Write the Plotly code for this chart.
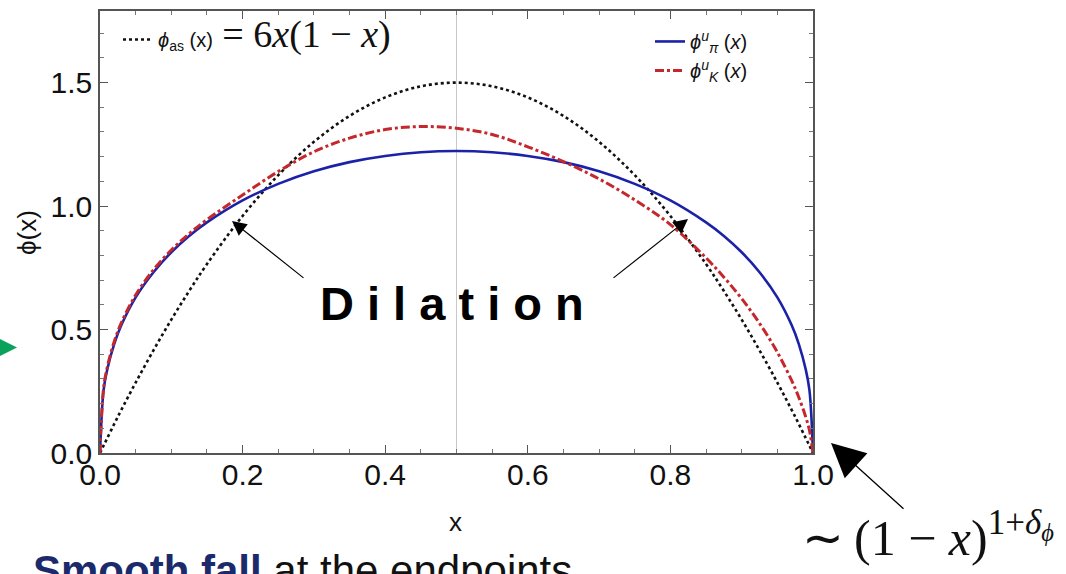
import plotly.graph_objects as go

# ---- data ----
x_vals = [0.0, 0.005, 0.01, 0.02, 0.03, 0.05, 0.075, 0.1, 0.125, 0.15, 0.2, 0.25, 0.3,
          0.35, 0.4, 0.45, 0.5, 0.55, 0.6, 0.65, 0.7, 0.75, 0.8, 0.85, 0.875, 0.9,
          0.925, 0.95, 0.97, 0.98, 0.99, 0.995, 1.0]

phi_as = [0.0, 0.030, 0.059, 0.118, 0.175, 0.285, 0.416, 0.54, 0.656, 0.765, 0.96, 1.125, 1.26,
          1.365, 1.44, 1.485, 1.5, 1.485, 1.44, 1.365, 1.26, 1.125, 0.96, 0.765, 0.656, 0.54,
          0.416, 0.285, 0.175, 0.118, 0.059, 0.030, 0.0]

phi_pi = [0.0, 0.255, 0.336, 0.442, 0.518, 0.630, 0.732, 0.813, 0.879, 0.934, 1.023, 1.090, 1.141,
          1.178, 1.203, 1.218, 1.223, 1.218, 1.203, 1.178, 1.141, 1.090, 1.023, 0.934, 0.879, 0.813,
          0.732, 0.630, 0.518, 0.442, 0.336, 0.255, 0.0]

phi_K = [0.0, 0.262, 0.345, 0.452, 0.528, 0.640, 0.742, 0.822, 0.888, 0.945, 1.045, 1.140, 1.220,
         1.275, 1.310, 1.322, 1.315, 1.290, 1.240, 1.180, 1.110, 1.025, 0.925, 0.790, 0.712, 0.625,
         0.525, 0.408, 0.294, 0.226, 0.144, 0.092, 0.0]

center_x = 0.5
x_ticks = [0.0, 0.2, 0.4, 0.6, 0.8, 1.0]
y_ticks = [0.0, 0.5, 1.0, 1.5]

# ---- geometry helpers (pixels -> paper) ----
L, R, T, B = 100, 253, 9, 121
W, H = 1066, 574
PW, PH = W - L - R, H - T - B


def px(xp):
    return (xp - L) / PW


def py(yp):
    return (H - B - yp) / PH


fig = go.Figure()

fig.add_trace(go.Scatter(
    x=x_vals, y=phi_as, mode="lines", line=dict(color="#111111", width=2.6, dash="3px,3px", shape="spline"),
    name="<i>ϕ</i><sub>as</sub> (x)<span style='font-family:Liberation Serif;font-size:38px'> = 6<i>x</i>(1 − <i>x</i>)</span>",
    legend="legend"))
fig.add_trace(go.Scatter(
    x=x_vals, y=phi_pi, mode="lines", line=dict(color="#1c22a8", width=2.6, shape="spline"),
    name="<i>ϕ</i><sup><i>u</i></sup><sub><i>π</i></sub> (<i>x</i>)", legend="legend2"))
fig.add_trace(go.Scatter(
    x=x_vals, y=phi_K, mode="lines", line=dict(color="#c4282c", width=3, dash="9px,3px,3px,3px", shape="spline"),
    name="<i>ϕ</i><sup><i>u</i></sup><sub><i>K</i></sub> (<i>x</i>)", legend="legend2"))

fig.add_vline(x=center_x, line=dict(color="#c8c8c8", width=1), layer="below")

axis_common = dict(
    showline=True, linecolor="#555555", linewidth=1.5, mirror="ticks",
    ticks="inside", ticklen=8, tickwidth=1, tickcolor="#555555",
    showgrid=False, zeroline=False,
    tickfont=dict(family="Liberation Sans", size=30, color="#111111"),
)

fig.update_xaxes(range=[0, 1], tickvals=x_ticks, ticktext=[f"{v:.1f}" for v in x_ticks],
                 ticklabelstandoff=-6,
                 minor=dict(dtick=0.05, ticks="inside", ticklen=4, tickcolor="#777777"), **axis_common)
fig.update_yaxes(range=[0, 1.79], tickvals=y_ticks, ticktext=[f"{v:.1f}" for v in y_ticks],
                 ticklabelstandoff=0,
                 minor=dict(dtick=0.1, ticks="inside", ticklen=4, tickcolor="#777777"), **axis_common)

annotations = [
    dict(text="x", x=px(455), y=py(522), xref="paper", yref="paper", showarrow=False,
         xanchor="center", yanchor="middle",
         font=dict(family="Liberation Sans", size=26, color="#111111")),
    dict(text="ϕ(x)", x=px(27), y=py(232), xref="paper", yref="paper", showarrow=False, textangle=-90,
         xanchor="center", yanchor="middle",
         font=dict(family="Liberation Sans", size=26, color="#111111")),
    dict(text="<b>D i l a t i o n</b>", x=px(452), y=py(303), xref="paper", yref="paper", showarrow=False,
         xanchor="center", yanchor="middle",
         font=dict(family="Liberation Sans", size=47, color="#000000")),
    # dilation arrows
    dict(text="", x=px(232), y=py(220), xref="paper", yref="paper", showarrow=True,
         ax=305 - 232, ay=278 - 220, arrowhead=2, arrowsize=2.4, arrowwidth=1.2, arrowcolor="#000000"),
    dict(text="", x=px(688), y=py(218), xref="paper", yref="paper", showarrow=True,
         ax=612 - 688, ay=278 - 218, arrowhead=2, arrowsize=2.4, arrowwidth=1.2, arrowcolor="#000000"),
    # endpoint arrow
    dict(text="", x=px(831), y=py(443), xref="paper", yref="paper", showarrow=True,
         ax=905 - 831, ay=510 - 443, arrowhead=2, arrowsize=5.2, arrowwidth=1.3, arrowcolor="#000000"),
    dict(text="∼\u2009(1 − <i>x</i>)<sup>1+<i>δ</i><sub><i>ϕ</i></sub></sup>", x=px(800), y=py(535),
         xref="paper", yref="paper", xanchor="left", yanchor="middle", showarrow=False,
         font=dict(family="Liberation Serif", size=50, color="#111111")),
    # green arrow at left edge
    dict(text="", x=px(17), y=py(347), xref="paper", yref="paper", showarrow=True,
         ax=-90, ay=0, arrowhead=2, arrowsize=2.4, arrowwidth=3, arrowcolor="#0aa25a"),
    dict(text="<b><span style='color:#1b2a6b'>Smooth fall</span></b> at the endpoints", x=px(31), y=py(545),
         xref="paper", yref="paper", xanchor="left", yanchor="top", showarrow=False,
         font=dict(family="Liberation Sans", size=42, color="#111111")),
]

fig.update_layout(
    width=W, height=H,
    margin=dict(l=L, r=R, t=T, b=B),
    paper_bgcolor="white", plot_bgcolor="white",
    showlegend=True,
    legend=dict(x=px(118), y=py(18), xanchor="left", yanchor="top", bgcolor="rgba(0,0,0,0)",
                font=dict(family="Liberation Sans", size=20, color="#111111"), itemwidth=30),
    legend2=dict(x=px(650), y=py(20), xanchor="left", yanchor="top", bgcolor="rgba(0,0,0,0)",
                 font=dict(family="Liberation Sans", size=20, color="#111111"), itemwidth=30,
                 tracegroupgap=0),
    annotations=annotations,
)

fig.write_html("out.html")
